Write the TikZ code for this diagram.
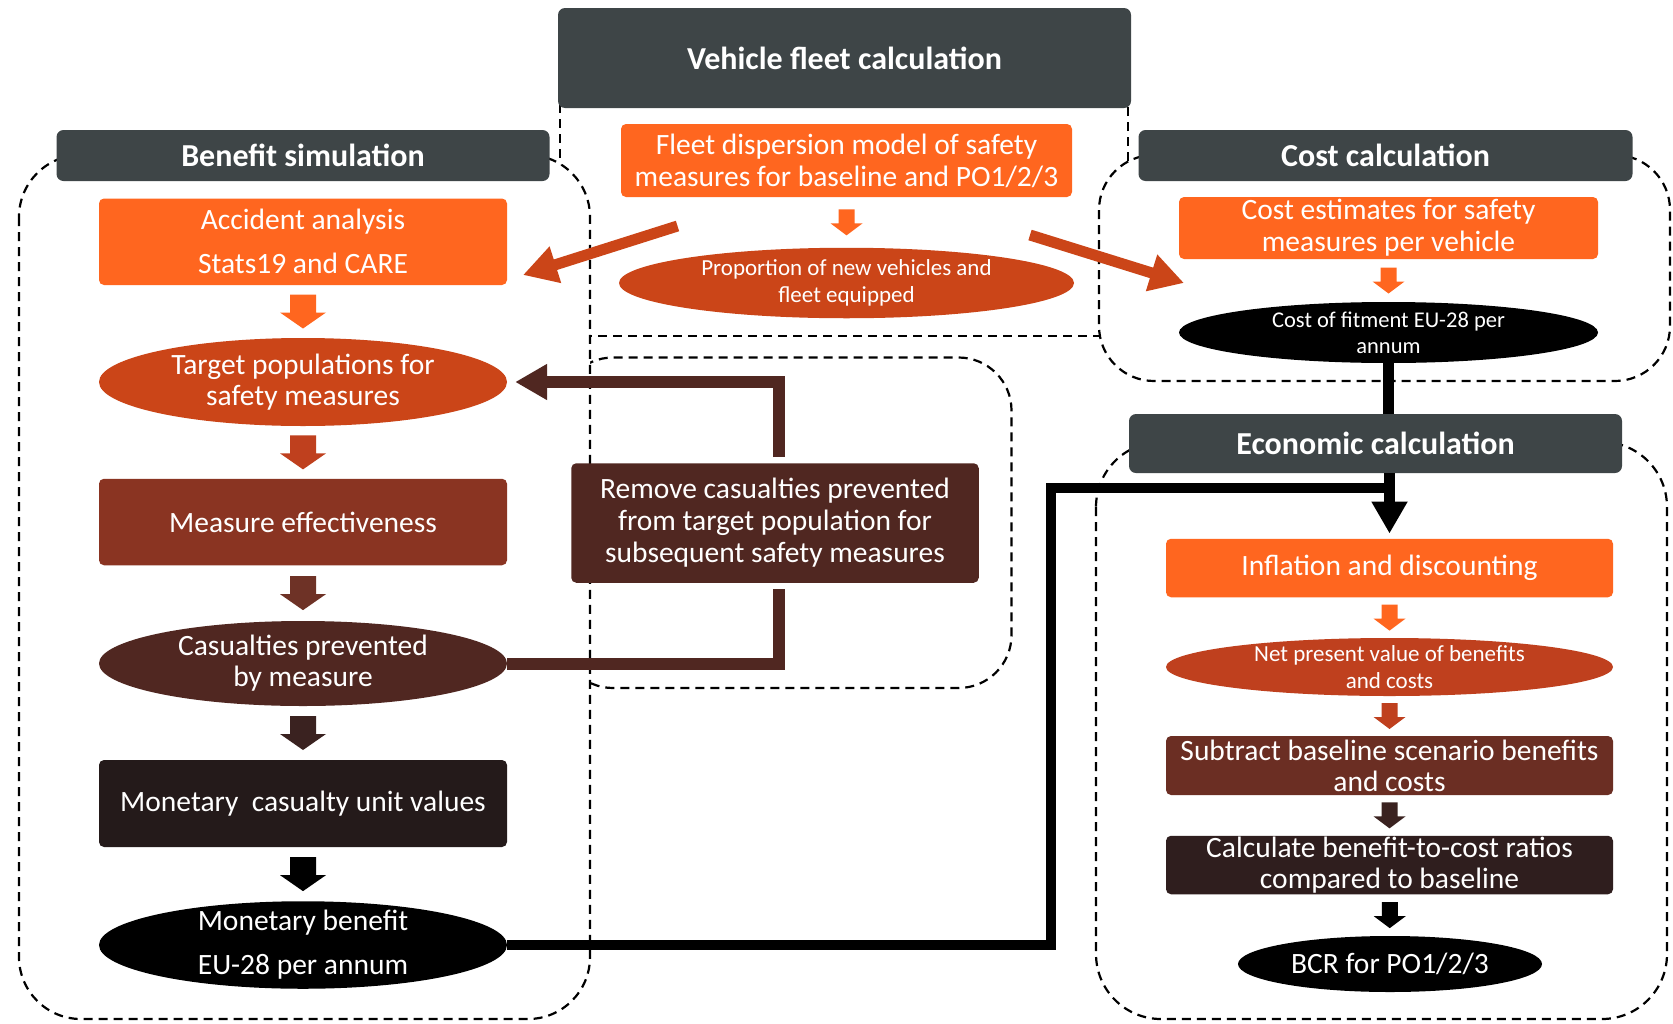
\documentclass[tikz,border=0pt]{standalone}
\usepackage{fontspec}
\setmainfont{Carlito}
\usetikzlibrary{shapes.geometric,arrows.meta,calc}
\definecolor{tgray}{HTML}{3E4547}
\definecolor{orng}{HTML}{FF661F}
\definecolor{rust}{HTML}{CB4518}
\definecolor{rusttwo}{HTML}{BF401E}
\definecolor{brick}{HTML}{8A3422}
\definecolor{dkbrown}{HTML}{502721}
\definecolor{blkbrown}{HTML}{241A1A}
\definecolor{subbrown}{HTML}{6B2E23}
\definecolor{calbrown}{HTML}{2F1E1E}
\definecolor{arrthree}{HTML}{6E3226}
\definecolor{arrfour}{HTML}{3A2220}
\tikzset{
  region/.style={draw=black, line width=2.2pt, dash pattern=on 9pt off 6pt},
  ttl/.style={fill=tgray, rounded corners=7pt, text=white, inner sep=0pt,
    font=\fontsize{32}{36}\selectfont\bfseries},
  bx/.style={rounded corners=5pt, text=white, inner sep=0pt, align=center,
    font=\fontsize{29.5}{32}\selectfont},
  oval/.style={ellipse, inner sep=0pt},
  txt/.style={text=white, align=center, inner sep=0pt, font=\fontsize{29.5}{31}\selectfont},
  stxt/.style={text=white, align=center, inner sep=0pt, font=\fontsize{23}{27}\selectfont},
  diag/.style={draw=rust, line width=11pt, -{Triangle[width=36pt,length=34pt]}},
  fb/.style={draw=dkbrown, line width=12pt},
  pics/bigdown/.style={code={\fill[#1] (-13,-17) -- (13,-17) -- (13,1) -- (23,1) -- (0,17) -- (-23,1) -- (-13,1) -- cycle;}},
  pics/smalldown/.style={code={\fill[#1] (-8,-13) -- (8,-13) -- (8,1) -- (16,1) -- (0,13) -- (-16,1) -- (-8,1) -- cycle;}},
}
\begin{document}
\begin{tikzpicture}[x=1pt,y=-1pt]
\useasboundingbox (0,0) rectangle (1673,1023);
% dashed regions
\draw[region] (560,59) rectangle (1128,336);
\draw[region, rounded corners=53pt] (560,357.5) rectangle (1011.5,688);
\draw[region, fill=white, rounded corners=62pt] (19,155) rectangle (590,1019);
\draw[region, fill=white, rounded corners=55pt] (1099,155) rectangle (1670,381);
\draw[region, fill=white, rounded corners=65pt] (1096,442) rectangle (1667,1019);
% titles
\node[ttl, minimum width=573pt, minimum height=100pt] (vft) at (844.5,58) {Vehicle fleet calculation};
\node[ttl, minimum width=493pt, minimum height=51pt] (bst) at (303,155.5) {Benefit simulation};
\node[ttl, minimum width=494pt, minimum height=51pt] (cst) at (1385.5,155.5) {Cost calculation};
\node[ttl, minimum width=493pt, minimum height=59pt] (ect) at (1375.5,443.5) {Economic calculation};
% benefit column
\node[bx, fill=orng, minimum width=408pt, minimum height=86.5pt, font=\fontsize{29.5}{44}\selectfont] (acc) at (303,241.75) {Accident analysis\\Stats19 and CARE};
\node[oval, fill=rust, minimum width=408pt, minimum height=88pt] (tgt) at (303,382) {};
\node[txt] (tgtt) at (tgt) {Target populations for\\safety measures};
\node[bx, fill=brick, minimum width=408pt, minimum height=86.5pt] (mef) at (303,522) {Measure effectiveness};
\node[oval, fill=dkbrown, minimum width=408pt, minimum height=85pt] (cas) at (303,663.5) {};
\node[txt] (cast) at (cas) {Casualties prevented\\by measure};
\node[bx, fill=blkbrown, minimum width=408pt, minimum height=87pt] (mcv) at (303,803.5) {Monetary\ \ casualty unit values};
\node[oval, fill=black, minimum width=408pt, minimum height=87.5pt] (mb) at (303,945) {};
\node[txt, font=\fontsize{29.5}{44}\selectfont] (mbt) at (mb) {Monetary benefit\\EU-28 per annum};
% vehicle
\node[bx, fill=orng, minimum width=451pt, minimum height=73pt] (fdm) at (846.5,160.5) {Fleet dispersion model of safety\\measures for baseline and PO1/2/3};
\node[oval, fill=rust, minimum width=455pt, minimum height=70.5pt] (prop) at (846.5,283) {};
\node[stxt] (propt) at (prop) {Proportion of new vehicles and\\fleet equipped};
% cost
\node[bx, fill=orng, minimum width=419pt, minimum height=62pt] (ce) at (1388.5,228) {Cost estimates for safety\\measures per vehicle};
\node[oval, fill=black, minimum width=419pt, minimum height=61pt] (cf) at (1388.5,332.5) {};
\node[stxt, font=\fontsize{22.5}{26}\selectfont] (cft) at (cf) {Cost of fitment EU-28 per\\annum};
% economic
\node[bx, fill=orng, minimum width=447pt, minimum height=58.5pt] (inf) at (1389.5,568) {Inflation and discounting};
\node[oval, fill=rusttwo, minimum width=447pt, minimum height=58pt] (npv) at (1389.5,667) {};
\node[stxt] (npvt) at (npv) {Net present value of benefits\\and costs};
\node[bx, fill=subbrown, minimum width=447pt, minimum height=59pt, font=\fontsize{29.5}{31}\selectfont] (sub) at (1389.5,765.5) {Subtract baseline scenario benefits\\and costs};
\node[bx, fill=calbrown, minimum width=447pt, minimum height=58.5pt, font=\fontsize{29.5}{31}\selectfont] (cal) at (1389.5,865) {Calculate benefit-to-cost ratios\\compared to baseline};
\node[oval, fill=black, minimum width=304pt, minimum height=56pt] (bcr) at (1390,964) {};
\node[txt] (bcrt) at (bcr) {BCR for PO1/2/3};
% remove
\node[bx, fill=dkbrown, minimum width=407.5pt, minimum height=119.5pt] (rem) at (775,523) {Remove casualties prevented\\from target population for\\subsequent safety measures};
% block arrows
\pic at ($(acc.south)!0.5!(tgt.north)$) {bigdown=orng};
\pic at ($(tgt.south)!0.5!(mef.north)$) {bigdown=rusttwo};
\pic at ($(mef.south)!0.5!(cas.north)$) {bigdown=arrthree};
\pic at ($(cas.south)!0.5!(mcv.north)$) {bigdown=arrfour};
\pic at ($(mcv.south)!0.5!(mb.north)$) {bigdown=black};
\pic at ($(fdm.south)!0.5!(prop.north)$) {smalldown=orng};
\pic at ($(ce.south)!0.5!(cf.north)$) {smalldown=orng};
\pic at ($(inf.south)!0.5!(npv.north)$) {smalldown=orng};
\pic at ($(npv.south)!0.5!(sub.north)$) {smalldown=rusttwo};
\pic at ($(sub.south)!0.5!(cal.north)$) {smalldown=arrfour};
\pic at ($(cal.south)!0.5!(bcr.north)$) {smalldown=black};
% diagonal arrows
\coordinate (lfta) at (677.5,226);
\coordinate (lftb) at (523,275);
\coordinate (rgta) at (1030,235);
\coordinate (rgtb) at (1184,283);
\draw[diag] (lfta) -- (lftb);
\draw[diag] (rgta) -- (rgtb);
% feedback loop
\draw[fb] (cas.east) -| ([xshift=4pt,yshift=-6pt]rem.south);
\draw[fb, -{Triangle[width=34pt,length=32pt]}] ([xshift=4pt,yshift=6pt]rem.north) |- ([xshift=8pt]tgt.east);
% black connectors
\coordinate (bend) at (1051,487.6);
\draw[line width=11pt] (cf.south) -- (cf.south |- ect.north);
\draw[line width=11pt, -{Triangle[width=34pt,length=32pt]}, shorten >=5pt] (inf.north |- ect.south) -- (inf.north);
\draw[line width=10pt] (mb.east) -| (bend) -- (bend -| inf.north);
\end{tikzpicture}
\end{document}
